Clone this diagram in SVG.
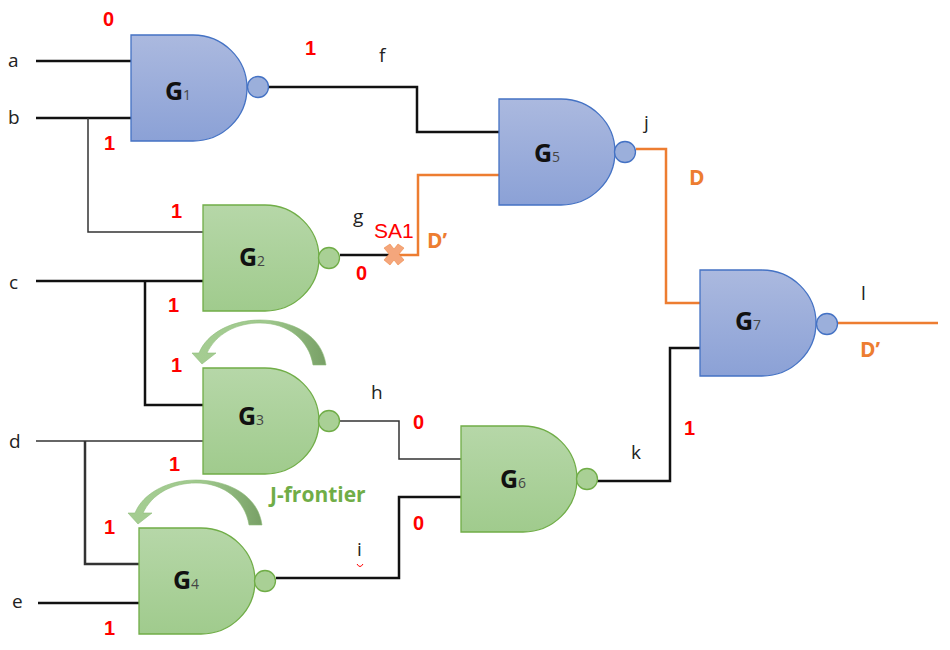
<svg xmlns="http://www.w3.org/2000/svg" width="950" height="650" viewBox="0 0 950 650">
<style>
text{font-family:"Open Sans","Liberation Sans",sans-serif}
.w{fill:none;stroke:#111;stroke-width:2.5}
.t{stroke-width:1.5;stroke:#333}
.o{fill:none;stroke:#ed7d31;stroke-width:2.5}
.blue use{fill:url(#gb);stroke:#4472c4;stroke-width:1.3}
.blue circle{fill:#9bafdb;stroke:#4472c4;stroke-width:1.3}
.green use{fill:url(#gg);stroke:#70ad47;stroke-width:1.3}
.green circle{fill:#a9d095;stroke:#70ad47;stroke-width:1.3}
.n{font-size:19px;fill:#222}
.r{font-size:20px;font-weight:700;fill:#f00;font-family:"Liberation Sans",sans-serif}
.d{font-size:21px;font-weight:700;fill:#ed7d31}
.g{font-size:25px;font-weight:700;fill:#111}
.s{font-size:14px;fill:#444;font-weight:400}
</style>
<defs>
<linearGradient id="gb" x1="0" y1="0" x2="0" y2="1"><stop offset="0" stop-color="#abb9df"/><stop offset="1" stop-color="#8ba1d6"/></linearGradient>
<linearGradient id="gg" x1="0" y1="0" x2="0" y2="1"><stop offset="0" stop-color="#b6d7a8"/><stop offset="1" stop-color="#a0cb8d"/></linearGradient>
<linearGradient id="ga" x1="0" y1="0" x2="1" y2="0"><stop offset="0" stop-color="#a5cd92"/><stop offset=".55" stop-color="#a0c98e"/><stop offset="1" stop-color="#78a066"/></linearGradient>
<path id="gate" d="M0 0H62C92 0 116 24 116 53C116 82 92 106 62 106H0Z"/>
<path id="arr" d="M202 364L192 353H199C207 333 232 320 260 320C292 320 322 335 326 365H313C309 340 288 323 260 323C236 323 216 334 207 353H216Z" fill="url(#ga)" stroke="#8fbc7a" stroke-width=".6"/>
</defs>
<rect width="950" height="650" fill="#fff"/>
<g id="connectors">
<path class="w" d="M36 61H131"/>
<path class="w" d="M36 118H131"/>
<path class="w t" d="M88 118V232H203"/>
<path class="w" d="M36 281H203"/>
<path class="w" d="M145 281V405H203"/>
<path class="w t" d="M36 441H203"/>
<path class="w" d="M85 441V564H139" style="stroke:#333"/>
<path class="w" d="M38 603H139"/>
<path class="w" d="M268 87H417V132H499"/>
<path class="w" d="M340 255H392"/>
<path class="o" d="M392 255H418V175H499"/>
<path class="o" d="M636 149H666V303H700"/>
<path class="w t" d="M339 421H399V459H461"/>
<path class="w" d="M276 578H399V497H461"/>
<path class="w" d="M597 481H670V348H700"/>
<path class="o" d="M836 323H938"/>
</g>
<g id="G1" class="blue"><use href="#gate" x="131" y="35"/><circle cx="258" cy="87" r="10.5"/><text x="165" y="100" class="g">G<tspan class="s">1</tspan></text></g>
<g id="G2" class="green"><use href="#gate" x="203" y="205"/><circle cx="329" cy="258" r="10.5"/><text x="239" y="266" class="g">G<tspan class="s">2</tspan></text></g>
<g id="G3" class="green"><use href="#gate" x="203" y="368"/><circle cx="329" cy="421" r="10.5"/><text x="238" y="425" class="g">G<tspan class="s">3</tspan></text></g>
<g id="G4" class="green"><use href="#gate" x="139" y="528"/><circle cx="265" cy="581" r="10.5"/><text x="173" y="589" class="g">G<tspan class="s">4</tspan></text></g>
<g id="G5" class="blue"><use href="#gate" x="499" y="99"/><circle cx="625" cy="152" r="10.5"/><text x="534" y="162" class="g">G<tspan class="s">5</tspan></text></g>
<g id="G6" class="green"><use href="#gate" x="461" y="426"/><circle cx="587" cy="479" r="10.5"/><text x="500" y="488" class="g">G<tspan class="s">6</tspan></text></g>
<g id="G7" class="blue"><use href="#gate" x="700" y="270"/><circle cx="827" cy="324" r="10.5"/><text x="735" y="330" class="g">G<tspan class="s">7</tspan></text></g>
<use href="#arr"/>
<use href="#arr" x="-64" y="160"/>
<path d="M390 244L394 249L398 244L404 248L399 254L404 260L398 265L394 260L390 265L384 260L389 254L384 248Z" fill="#f4a67c" stroke="#ed7d31" stroke-width=".5"/>
<path d="M357 564Q360 569 363 564" fill="none" stroke="#f00" stroke-width="1"/>
<g id="labels">
<text class="n" x="8" y="67">a</text><text class="n" x="8" y="124">b</text><text class="n" x="9" y="289">c</text><text class="n" x="9" y="448">d</text><text class="n" x="12" y="608">e</text>
<text class="n" x="379" y="62">f</text><text class="n" x="353" y="223">g</text><text class="n" x="371" y="399">h</text><text class="n" x="357" y="556">i</text><text class="n" x="644" y="129">j</text><text class="n" x="631" y="459">k</text><text class="n" x="861" y="300">l</text>
<text class="r" x="103" y="26">0</text><text class="r" x="305" y="55">1</text><text class="r" x="104" y="150">1</text><text class="r" x="171" y="218">1</text><text class="r" x="356" y="280">0</text><text class="r" x="168" y="312">1</text><text class="r" x="171" y="372">1</text><text class="r" x="413" y="429">0</text><text class="r" x="169" y="471">1</text><text class="r" x="104" y="534">1</text><text class="r" x="413" y="530">0</text><text class="r" x="104" y="635">1</text><text class="r" x="684" y="435">1</text>
<text x="374" y="238" font-size="21" fill="#f00" style="font-family:'Liberation Sans',sans-serif">SA1</text>
<text class="d" x="427" y="248">D’</text><text class="d" x="689" y="185">D</text><text class="d" x="860" y="357">D’</text>
<text x="270" y="502" font-size="21" font-weight="700" fill="#70ad47">J-frontier</text>
</g>
</svg>
